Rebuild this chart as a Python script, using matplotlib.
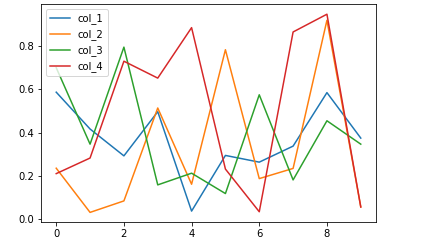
import matplotlib
matplotlib.use("Agg")
import matplotlib.pyplot as plt

x = list(range(10))
col_1 = [0.587, 0.417, 0.293, 0.497, 0.038, 0.295, 0.264, 0.338, 0.585, 0.375]
col_2 = [0.236, 0.032, 0.085, 0.514, 0.162, 0.783, 0.188, 0.235, 0.919, 0.057]
col_3 = [0.700, 0.347, 0.795, 0.159, 0.213, 0.119, 0.575, 0.182, 0.455, 0.347]
col_4 = [0.211, 0.283, 0.730, 0.652, 0.885, 0.232, 0.035, 0.865, 0.947, 0.057]

series = {"col_1": col_1, "col_2": col_2, "col_3": col_3, "col_4": col_4}

fig = plt.figure(figsize=(429 / 72, 248 / 72), dpi=72)
ax = fig.add_axes([41 / 429, 1 - 222.3 / 248, (376 - 41) / 429, (222.3 - 4.3) / 248])

for name, vals in series.items():
    ax.plot(x, vals, label=name)

ax.legend(loc="upper left")

fig.savefig("out.png", dpi=72)
